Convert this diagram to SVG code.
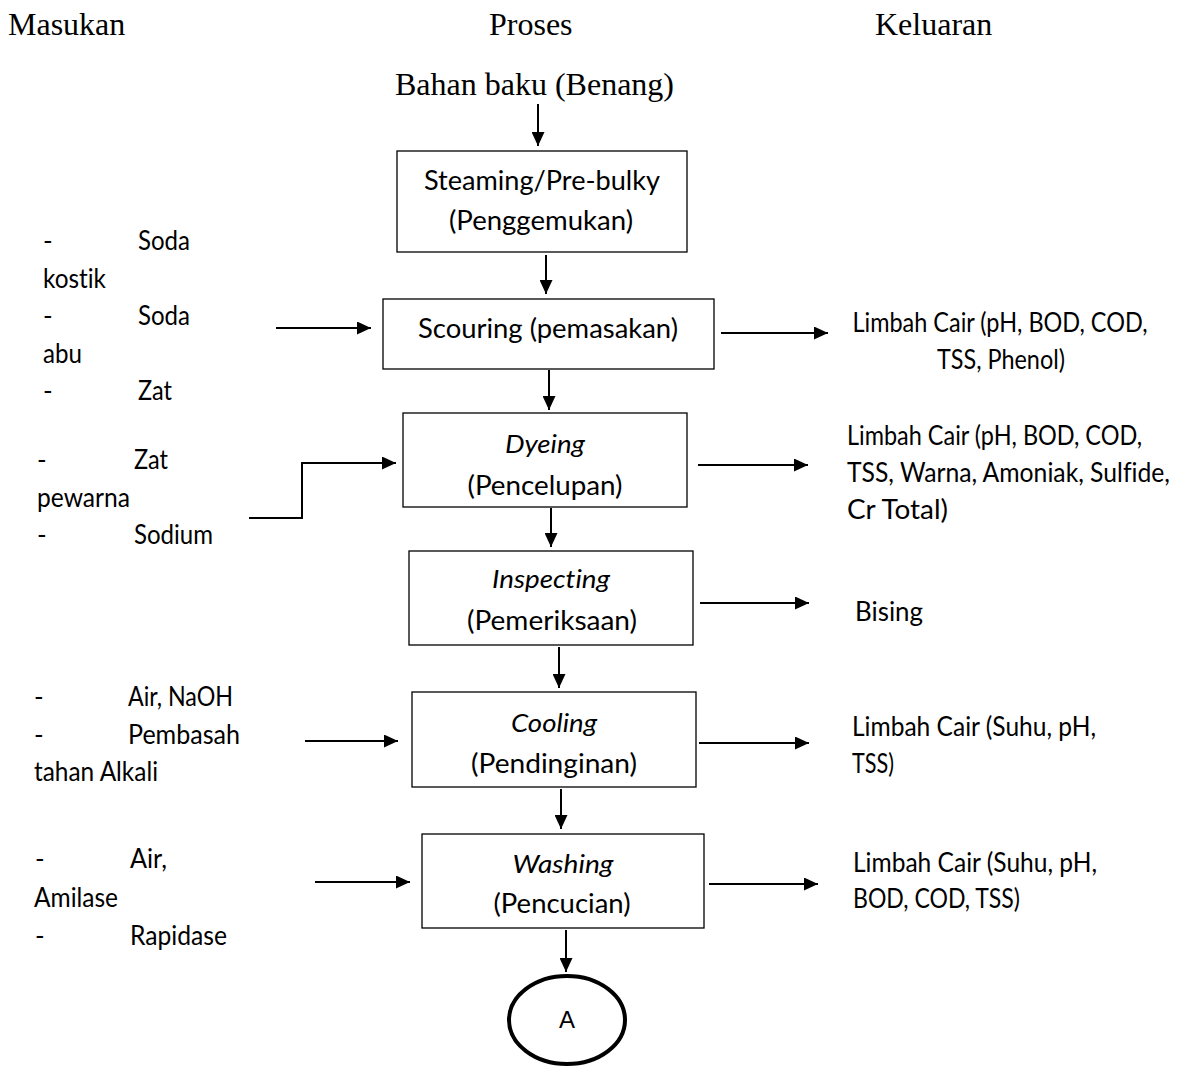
<svg xmlns="http://www.w3.org/2000/svg" width="1186" height="1067" viewBox="0 0 1186 1067">
<defs>
<marker id="ah" markerUnits="userSpaceOnUse" markerWidth="15" markerHeight="13" refX="14" refY="6.5" orient="auto">
<path d="M0,0 L14,6.5 L0,13 z" fill="#000"/>
</marker>
<style>
.hd{font-family:"Liberation Serif","Times New Roman",serif;font-size:32px;fill:#000}
.t{font-family:Lato,"Noto Sans",sans-serif;font-size:26px;fill:#000;font-variant-ligatures:none}
.i{font-style:italic}
.c{text-anchor:middle}
.box{fill:#fff;stroke:#000;stroke-width:1.3}
.ar{fill:none;stroke:#000;stroke-width:2;marker-end:url(#ah)}
</style>
</defs>
<rect width="1186" height="1067" fill="#fff"/>
<g id="headers">
<text class="hd" x="8" y="35">Masukan</text>
<text class="hd" x="489" y="35">Proses</text>
<text class="hd" x="875" y="35">Keluaran</text>
</g>
<g id="start"><text class="hd" x="395" y="95">Bahan baku (Benang)</text></g>
<g id="steaming">
<rect class="box" x="397" y="151" width="290" height="101"/>
<text class="t c" x="542" y="190" textLength="236" lengthAdjust="spacingAndGlyphs">Steaming/Pre-bulky</text>
<text class="t c" x="541" y="230" textLength="184" lengthAdjust="spacingAndGlyphs">(Penggemukan)</text>
</g>
<g id="scouring">
<rect class="box" x="383" y="299" width="331" height="70"/>
<text class="t c" x="548" y="338" textLength="260" lengthAdjust="spacingAndGlyphs">Scouring (pemasakan)</text>
</g>
<g id="dyeing">
<rect class="box" x="403" y="413" width="284" height="94"/>
<text class="t c i" x="545" y="453" textLength="80" lengthAdjust="spacingAndGlyphs">Dyeing</text>
<text class="t c" x="545" y="495" textLength="155" lengthAdjust="spacingAndGlyphs">(Pencelupan)</text>
</g>
<g id="inspecting">
<rect class="box" x="409" y="551" width="284" height="94"/>
<text class="t c i" x="551" y="588" textLength="118" lengthAdjust="spacingAndGlyphs">Inspecting</text>
<text class="t c" x="552" y="630" textLength="170" lengthAdjust="spacingAndGlyphs">(Pemeriksaan)</text>
</g>
<g id="cooling">
<rect class="box" x="412" y="692" width="284" height="95"/>
<text class="t c i" x="554" y="732" textLength="86" lengthAdjust="spacingAndGlyphs">Cooling</text>
<text class="t c" x="554" y="773" textLength="166" lengthAdjust="spacingAndGlyphs">(Pendinginan)</text>
</g>
<g id="washing">
<rect class="box" x="422" y="834" width="282" height="94"/>
<text class="t c i" x="563" y="873" textLength="101" lengthAdjust="spacingAndGlyphs">Washing</text>
<text class="t c" x="562" y="913" textLength="137" lengthAdjust="spacingAndGlyphs">(Pencucian)</text>
</g>
<g id="nodeA">
<ellipse cx="567" cy="1020" rx="58" ry="44" fill="#fff" stroke="#000" stroke-width="4"/>
<text x="567" y="1028" text-anchor="middle" font-family="Liberation Sans,Arial,sans-serif" font-size="24">A</text>
</g>
<g id="in-scouring">
<text class="t" x="43" y="250">-</text><text class="t" x="138" y="250" textLength="52" lengthAdjust="spacingAndGlyphs">Soda</text>
<text class="t" x="43" y="288" textLength="63" lengthAdjust="spacingAndGlyphs">kostik</text>
<text class="t" x="43" y="325">-</text><text class="t" x="138" y="325" textLength="52" lengthAdjust="spacingAndGlyphs">Soda</text>
<text class="t" x="43" y="363" textLength="39" lengthAdjust="spacingAndGlyphs">abu</text>
<text class="t" x="43" y="400">-</text><text class="t" x="138" y="400" textLength="34" lengthAdjust="spacingAndGlyphs">Zat</text>
</g>
<g id="in-dyeing">
<text class="t" x="37" y="469">-</text><text class="t" x="134" y="469" textLength="34" lengthAdjust="spacingAndGlyphs">Zat</text>
<text class="t" x="37" y="507" textLength="93" lengthAdjust="spacingAndGlyphs">pewarna</text>
<text class="t" x="37" y="544">-</text><text class="t" x="134" y="544" textLength="79" lengthAdjust="spacingAndGlyphs">Sodium</text>
</g>
<g id="in-cooling">
<text class="t" x="34" y="706">-</text><text class="t" x="128" y="706" textLength="105" lengthAdjust="spacingAndGlyphs">Air, NaOH</text>
<text class="t" x="34" y="744">-</text><text class="t" x="128" y="744" textLength="112" lengthAdjust="spacingAndGlyphs">Pembasah</text>
<text class="t" x="34" y="781" textLength="124" lengthAdjust="spacingAndGlyphs">tahan Alkali</text>
</g>
<g id="in-washing">
<text class="t" x="35" y="868">-</text><text class="t" x="130" y="868" textLength="37" lengthAdjust="spacingAndGlyphs">Air,</text>
<text class="t" x="34" y="907" textLength="84" lengthAdjust="spacingAndGlyphs">Amilase</text>
<text class="t" x="35" y="945">-</text><text class="t" x="130" y="945" textLength="97" lengthAdjust="spacingAndGlyphs">Rapidase</text>
</g>
<g id="out-scouring">
<text class="t c" x="1000" y="332" textLength="295" lengthAdjust="spacingAndGlyphs">Limbah Cair (pH, BOD, COD,</text>
<text class="t c" x="1001" y="369" textLength="128" lengthAdjust="spacingAndGlyphs">TSS, Phenol)</text>
</g>
<g id="out-dyeing">
<text class="t" x="847" y="445" textLength="295" lengthAdjust="spacingAndGlyphs">Limbah Cair (pH, BOD, COD,</text>
<text class="t" x="847" y="482" textLength="323" lengthAdjust="spacingAndGlyphs">TSS, Warna, Amoniak, Sulfide,</text>
<text class="t" x="847" y="519" textLength="101" lengthAdjust="spacingAndGlyphs">Cr Total)</text>
</g>
<g id="out-inspecting"><text class="t" x="855" y="621" textLength="68" lengthAdjust="spacingAndGlyphs">Bising</text></g>
<g id="out-cooling">
<text class="t" x="852" y="736" textLength="244" lengthAdjust="spacingAndGlyphs">Limbah Cair (Suhu, pH,</text>
<text class="t" x="852" y="773" textLength="42" lengthAdjust="spacingAndGlyphs">TSS)</text>
</g>
<g id="out-washing">
<text class="t" x="853" y="872" textLength="244" lengthAdjust="spacingAndGlyphs">Limbah Cair (Suhu, pH,</text>
<text class="t" x="853" y="908" textLength="167" lengthAdjust="spacingAndGlyphs">BOD, COD, TSS)</text>
</g>
<g id="connectors">
<line class="ar" x1="538" y1="104" x2="538" y2="146"/>
<line class="ar" x1="546" y1="255" x2="546" y2="294"/>
<line class="ar" x1="549" y1="370" x2="549" y2="410"/>
<line class="ar" x1="551" y1="508" x2="551" y2="547"/>
<line class="ar" x1="559" y1="647" x2="559" y2="688"/>
<line class="ar" x1="561" y1="789" x2="561" y2="829"/>
<line class="ar" x1="566" y1="930" x2="566" y2="972"/>
<line class="ar" x1="276" y1="328" x2="371" y2="328"/>
<polyline class="ar" points="249,518 302,518 302,463 396,463"/>
<line class="ar" x1="305" y1="741" x2="398" y2="741"/>
<line class="ar" x1="315" y1="882" x2="410" y2="882"/>
<line class="ar" x1="721" y1="333" x2="828" y2="333"/>
<line class="ar" x1="698" y1="465" x2="808" y2="465"/>
<line class="ar" x1="700" y1="603" x2="809" y2="603"/>
<line class="ar" x1="699" y1="743" x2="809" y2="743"/>
<line class="ar" x1="709" y1="884" x2="818" y2="884"/>
</g>
</svg>
